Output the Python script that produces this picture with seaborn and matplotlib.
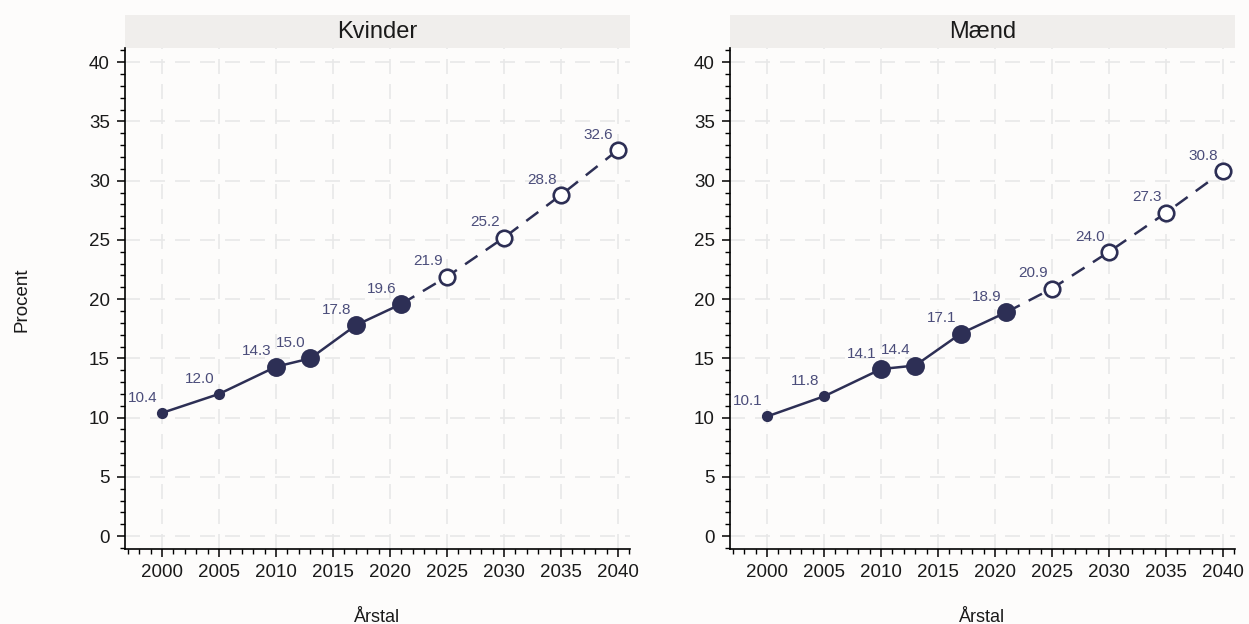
import numpy as np
import pandas as pd
import matplotlib
matplotlib.use("Agg")
import matplotlib.pyplot as plt
from matplotlib.patches import Rectangle
from matplotlib.ticker import MultipleLocator
import seaborn as sns

# data
years = [2000, 2005, 2010, 2013, 2017, 2021, 2025, 2030, 2035, 2040]
kvinder = [10.4, 12.0, 14.3, 15.0, 17.8, 19.6, 21.9, 25.2, 28.8, 32.6]
maend = [10.1, 11.8, 14.1, 14.4, 17.1, 18.9, 20.9, 24.0, 27.3, 30.8]
panels = ["Kvinder", "Mænd"]
# marker kind per year: small / big / open (projection)
kind = ["small", "small", "big", "big", "big", "big", "open", "open", "open", "open"]
last_observed = 2021

NAVY = "#2d2f55"
LABEL_COL = "#4b4d7a"

sns.set_theme(style="white")
plt.rcParams["font.family"] = ["Liberation Sans", "DejaVu Sans"]

fig = plt.figure(figsize=(12.49, 6.24), dpi=100)
fig.patch.set_facecolor("#fdfcfb")

positions = [[0.1001, 0.120, 0.4043, 0.803], [0.5845, 0.120, 0.4043, 0.803]]

for pos, name, vals in zip(positions, panels, [kvinder, maend]):
    ax = fig.add_axes(pos)
    ax.set_facecolor("#fdfcfb")
    df = pd.DataFrame({"year": years, "value": vals, "kind": kind})
    obs = df[df["year"] <= last_observed]
    proj = df[df["year"] >= last_observed]

    sns.lineplot(data=obs, x="year", y="value", color=NAVY, lw=1.8, ax=ax)
    sns.lineplot(data=proj, x="year", y="value", color=NAVY, lw=1.8, ax=ax,
                 dashes=False, linestyle=(0, (6, 4)))

    sns.scatterplot(data=df[df["kind"] == "small"], x="year", y="value", color=NAVY,
                    s=65, edgecolor=NAVY, linewidth=0, ax=ax, zorder=3)
    sns.scatterplot(data=df[df["kind"] == "big"], x="year", y="value", color=NAVY,
                    s=185, edgecolor=NAVY, linewidth=0, ax=ax, zorder=3)
    sns.scatterplot(data=df[df["kind"] == "open"], x="year", y="value", color="white",
                    s=125, edgecolor=NAVY, linewidth=1.9, ax=ax, zorder=3)

    for x, y in zip(years, vals):
        ax.annotate(f"{y:.1f}", (x, y), xytext=(-14, 11), textcoords="offset points",
                    ha="center", va="center", fontsize=11, color=LABEL_COL)

    ax.set_xlim(1996.75, 2041.05)
    ax.set_ylim(-1.1, 41.2)
    ax.xaxis.set_major_locator(MultipleLocator(5))
    ax.xaxis.set_minor_locator(MultipleLocator(1))
    ax.yaxis.set_major_locator(MultipleLocator(5))
    ax.yaxis.set_minor_locator(MultipleLocator(1))
    ax.set_xticks(range(2000, 2041, 5))
    ax.set_yticks(range(0, 41, 5))
    ax.grid(True, which="major", color="#e8e8e8", lw=1.2, linestyle=(0, (9, 6)))
    ax.tick_params(which="major", direction="out", length=6, width=1.1, color="black",
                   labelsize=13.5, labelcolor="#1a1a1a", pad=5, bottom=True, left=True)
    ax.tick_params(which="minor", direction="out", length=3.5, width=1.0, color="black",
                   bottom=True, left=True)
    for side in ["top", "right"]:
        ax.spines[side].set_visible(False)
    for side in ["left", "bottom"]:
        ax.spines[side].set_color("black")
        ax.spines[side].set_linewidth(1.2)
    ax.set_xlabel("Årstal", fontsize=13, labelpad=20, color="#1a1a1a")
    ax.set_ylabel("")

    # title strip
    ax.add_patch(Rectangle((0, 1.0), 1, 0.066, transform=ax.transAxes,
                           facecolor="#f0eeec", edgecolor="none", clip_on=False))
    ax.text(0.5, 1.033, name, transform=ax.transAxes, ha="center", va="center",
            fontsize=17, color="#1a1a1a")

fig.text(0.018, 0.52, "Procent", rotation=90, ha="center", va="center", fontsize=13.5,
         color="#1a1a1a")

fig.savefig("out.png", dpi=100, facecolor=fig.get_facecolor())
